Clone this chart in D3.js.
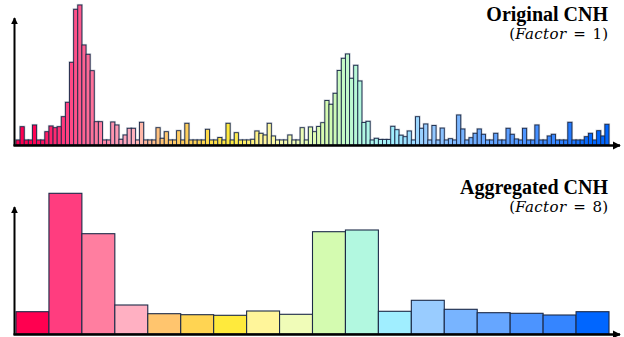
<!DOCTYPE html>
<html>
<head>
<meta charset="utf-8">
<script src="https://cdn.jsdelivr.net/npm/d3@7"></script>
<style>
  html, body { margin: 0; padding: 0; background: #fff; }
  svg { display: block; }
</style>
</head>
<body>
<svg id="chart" width="624" height="337"></svg>
<script>
// original histogram, 144 bins
const originalBins = [
  5, 18.3, 5, 5, 20, 5, 5, 13.3,
  19, 17.3, 18.3, 28.3, 42.7, 82.7, 135.7, 140,
  100, 90.7, 74.3, 23.3, 23.3, 5, 5, 23,
  20, 5.7, 10, 16.7, 16.7, 5, 22.7, 5,
  5, 5, 17.3, 6.7, 13.3, 5, 5, 14.3,
  5, 21.7, 5, 5, 5, 5, 15.7, 5,
  5, 7.5, 5, 21.7, 5, 12.3, 5, 5,
  5, 5.7, 14, 11.7, 10, 21.7, 9, 5,
  5, 5, 10, 5, 5, 17.3, 5, 18,
  13.3, 18.5, 22.3, 44.5, 40.7, 51.7, 74.5, 86.7,
  91, 66.7, 79.7, 64, 22.5, 23.7, 5, 6.7,
  5.5, 5.5, 5.5, 18.7, 15.3, 9.8, 8.3, 14,
  5, 28.3, 16.7, 21, 5, 19.5, 5, 16.9,
  5, 6.3, 5, 30, 16, 5, 7.3, 11.7,
  16, 10.7, 5, 5, 11.7, 5, 5, 16.7,
  10.7, 6, 5, 16.7, 5, 5, 20, 5,
  5, 9, 10.7, 5, 5, 5, 22.7, 5,
  5, 5, 8.3, 11.7, 5, 14.3, 9, 20.7
];

// aggregated histogram, 18 bins (factor 8)
const aggregatedBins = [22.3, 140.7, 100.3, 29, 20.3, 19.3, 18.7, 23, 19.7,
  102.3, 104, 22.7, 33.7, 24.7, 21.3, 20.7, 19, 22.3];

const binColors = ["#ff0050", "#ff3d7f", "#ff7ea0", "#ffb0c2", "#ffc56e", "#ffd452",
  "#ffea3c", "#fff59a", "#f0fcb8", "#d4fbb0", "#b2f8e0", "#a0eeff",
  "#99ccff", "#78b4ff", "#66a6ff", "#4c94ff", "#3585ff", "#0066ff"];

const panels = [
  { title: "Original CNH", factor: "1", data: originalBins, base: 145, top: 5, axisTop: 18, titleY: 21 },
  { title: "Aggregated CNH", factor: "8", data: aggregatedBins, base: 334, top: 194, axisTop: 207, titleY: 194 }
];

const svg = d3.select("#chart");
const x0 = 16, x1 = 609;

svg.append("defs").append("marker")
  .attr("id", "arrow")
  .attr("viewBox", "0 0 10 10")
  .attr("refX", 9).attr("refY", 5)
  .attr("markerWidth", 3.4).attr("markerHeight", 3.4)
  .attr("orient", "auto")
  .append("path")
  .attr("d", "M0,0L10,5L0,10z")
  .attr("fill", "#000");

// color for a bin position measured in aggregated-bin units
const colorScale = d3.scaleLinear()
  .domain(binColors.map((c, i) => i))
  .range(binColors)
  .interpolate(d3.interpolateRgb)
  .clamp(true);

panels.forEach(p => {
  const n = p.data.length;
  const perGroup = n / binColors.length;   // 8 for original, 1 for aggregated
  const g = svg.append("g");

  const x = d3.scaleBand()
    .domain(d3.range(n))
    .range([x0, x1])
    .paddingInner(0);

  const y = d3.scaleLinear()
    .domain([0, 140])
    .range([p.base, p.top]);

  const fill = i => perGroup === 1 ? binColors[i] : colorScale((i + 0.5) / perGroup - 0.5);

  // soft halo under thin bars
  if (perGroup > 1) {
    g.selectAll("rect.halo")
      .data(p.data)
      .enter()
      .append("rect")
      .attr("class", "halo")
      .attr("x", (d, i) => x(i))
      .attr("y", d => y(d))
      .attr("width", x.bandwidth())
      .attr("height", d => p.base - y(d))
      .attr("fill", "none")
      .attr("stroke", "rgba(70,85,115,0.3)")
      .attr("stroke-width", 2.2);
  }

  g.selectAll("rect.bar")
    .data(p.data)
    .enter()
    .append("rect")
    .attr("class", "bar")
    .attr("x", (d, i) => x(i))
    .attr("y", d => y(d))
    .attr("width", x.bandwidth())
    .attr("height", d => p.base - y(d))
    .attr("fill", (d, i) => fill(i))
    .attr("stroke", "#1c2a48")
    .attr("stroke-width", perGroup > 1 ? 0.9 : 1.1);

  // axes
  g.append("line")
    .attr("x1", 14.5).attr("y1", p.base + 1)
    .attr("x2", 14.5).attr("y2", p.axisTop)
    .attr("stroke", "#000").attr("stroke-width", 2)
    .attr("marker-end", "url(#arrow)");

  g.append("line")
    .attr("x1", 13.5).attr("y1", p.base + 0.5)
    .attr("x2", 620).attr("y2", p.base + 0.5)
    .attr("stroke", "#000").attr("stroke-width", 2.4)
    .attr("marker-end", "url(#arrow)");

  // titles
  g.append("text")
    .attr("x", 608).attr("y", p.titleY)
    .attr("text-anchor", "end")
    .style("font-family", "'Liberation Serif', 'Times New Roman', serif")
    .style("font-weight", "bold")
    .style("font-size", "20px")
    .attr("fill", "#000")
    .text(p.title);

  const sub = g.append("text")
    .attr("x", 608).attr("y", p.titleY + 18)
    .attr("text-anchor", "end")
    .style("font-family", "'DejaVu Serif', serif")
    .style("font-size", "15px")
    .style("word-spacing", "2px")
    .attr("fill", "#000");
  sub.append("tspan").text("(");
  sub.append("tspan").style("font-style", "italic").style("letter-spacing", "0.4px").text("Factor");
  sub.append("tspan").text(" = " + p.factor + ")");
});
</script>
</body>
</html>
